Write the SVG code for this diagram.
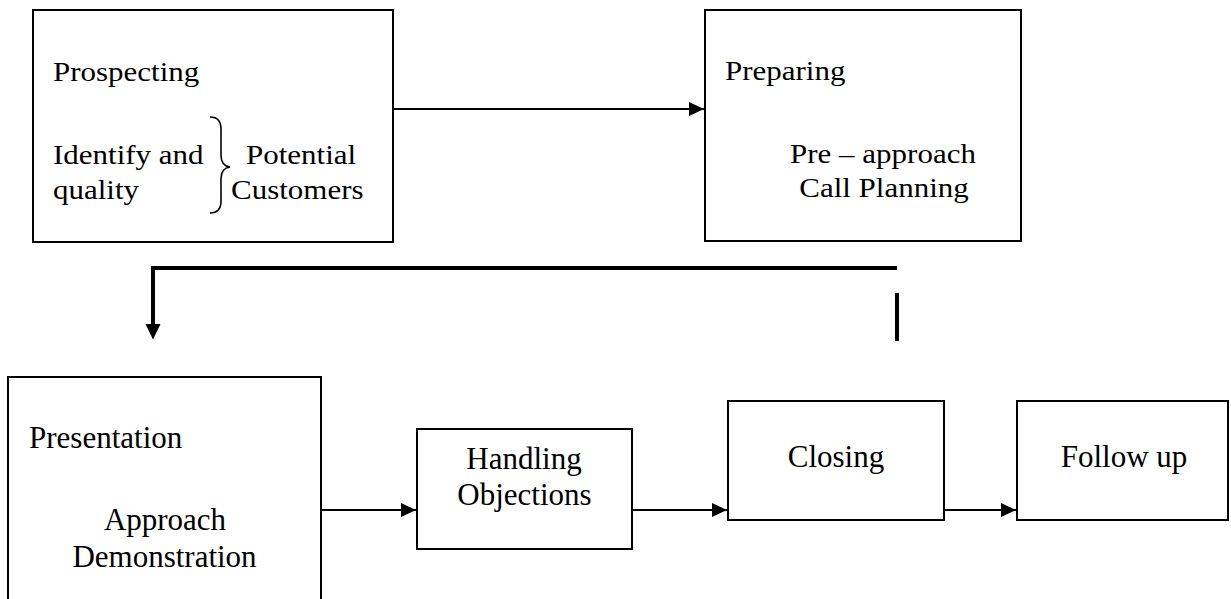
<svg xmlns="http://www.w3.org/2000/svg" width="1231" height="599" viewBox="0 0 1231 599">
<style>
.box{fill:#fff;stroke:#000;stroke-width:2}
.t{font-family:"Liberation Serif","Times New Roman",serif;font-size:31px;fill:#000}
.m{text-anchor:middle}
.c{fill:none;stroke:#000;stroke-width:2}
.thick{fill:none;stroke:#000;stroke-width:4}
</style>
<defs>
<marker id="ah" markerWidth="15" markerHeight="14" refX="15" refY="7" orient="auto" markerUnits="userSpaceOnUse">
<path d="M0,0 L15,7 L0,14 Z" fill="#000"/>
</marker>
</defs>
<rect width="1231" height="599" fill="#fff"/>
<g id="connectors">
<line class="c" x1="393" y1="109" x2="704" y2="109" marker-end="url(#ah)"/>
<polyline class="thick" points="897,268 153,268 153,326"/>
<path d="M145.5,324 L160.5,324 L153,339.5 Z" fill="#000"/>
<line class="thick" x1="897" y1="293" x2="897" y2="341"/>
<line class="c" x1="321" y1="510" x2="416" y2="510" marker-end="url(#ah)"/>
<line class="c" x1="632" y1="510" x2="727" y2="510" marker-end="url(#ah)"/>
<line class="c" x1="944" y1="510" x2="1016" y2="510" marker-end="url(#ah)"/>
</g>
<g id="prospecting">
<rect class="box" x="33" y="10" width="360" height="232"/>
<text class="t" transform="translate(53,81) scale(1,0.88)">Prospecting</text>
<text class="t" transform="translate(53,164) scale(1,0.88)">Identify and</text>
<text class="t" transform="translate(53,199) scale(1,0.88)">quality</text>
<path d="M210,117 Q221,117 221,129 L221,155 Q221,166 230,167 Q221,168 221,179 L221,201 Q221,213 210,213" fill="none" stroke="#000" stroke-width="1.6"/>
<text class="t" transform="translate(246,164) scale(1,0.88)">Potential</text>
<text class="t" transform="translate(231,199) scale(1,0.88)">Customers</text>
</g>
<g id="preparing">
<rect class="box" x="705" y="10" width="316" height="231"/>
<text class="t" transform="translate(725,80) scale(1,0.88)">Preparing</text>
<text class="t m" transform="translate(883,163) scale(1,0.88)">Pre – approach</text>
<text class="t m" transform="translate(884,197) scale(1,0.88)">Call Planning</text>
</g>
<g id="presentation">
<rect class="box" x="8" y="377" width="313" height="240"/>
<text class="t" x="29" y="448">Presentation</text>
<text class="t m" x="165" y="530">Approach</text>
<text class="t m" x="164.5" y="567">Demonstration</text>
</g>
<g id="handling">
<rect class="box" x="417" y="429" width="215" height="120"/>
<text class="t m" x="524" y="469">Handling</text>
<text class="t m" x="524.5" y="505">Objections</text>
</g>
<g id="closing">
<rect class="box" x="728" y="401" width="216" height="119"/>
<text class="t m" x="836" y="467">Closing</text>
</g>
<g id="followup">
<rect class="box" x="1017" y="401" width="211" height="119"/>
<text class="t m" x="1124" y="467">Follow up</text>
</g>
</svg>
